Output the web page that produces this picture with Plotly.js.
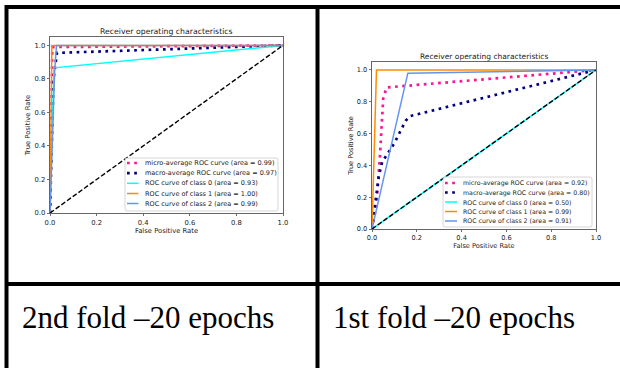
<!DOCTYPE html>
<html><head><meta charset="utf-8">
<script src="https://cdn.plot.ly/plotly-3.0.1.min.js"></script>
<style>html,body{margin:0;padding:0;background:#fff;} #chart{width:620px;height:368px;}</style>
</head><body><div id="chart"></div>
<script>
// ---------- data ----------
const chartTitle = 'Receiver operating characteristics';
const seriesNames = ['micro-average ROC curve', 'macro-average ROC curve', 'ROC curve of class 0', 'ROC curve of class 1', 'ROC curve of class 2'];
const cellLabels = ['2nd fold \u201320 epochs', '1st fold \u201320 epochs'];
const tickValues = [0, 0.2, 0.4, 0.6, 0.8, 1.0];

// 2nd fold (left panel)
const fold2Areas = [0.99, 0.97, 0.93, 1.00, 0.99];
const fold2MicroFpr = [0, 0.007, 0.01, 1];
const fold2MicroTpr = [0, 0.9, 0.99, 1];
const fold2MacroFpr = [0, 0.005, 0.015, 0.03, 1];
const fold2MacroTpr = [0, 0.3, 0.8, 0.955, 1];
const fold2C0Fpr = [0, 0.017, 1];
const fold2C0Tpr = [0, 0.866, 1];
const fold2C1Fpr = [0, 0.008, 1];
const fold2C1Tpr = [0, 1, 1];
const fold2C2Fpr = [0, 0.02, 0.028, 1];
const fold2C2Tpr = [0, 0.85, 1, 1];

// 1st fold (right panel)
const fold1Areas = [0.92, 0.80, 0.50, 0.99, 0.91];
const fold1MicroFpr = [0, 0.02, 0.035, 0.05, 0.065, 1];
const fold1MicroTpr = [0, 0.15, 0.45, 0.82, 0.89, 1];
const fold1MacroFpr = [0, 0.007, 0.015, 0.022, 0.03, 0.045, 0.074, 0.1, 0.125, 0.15, 0.17, 1];
const fold1MacroTpr = [0, 0.08, 0.19, 0.27, 0.33, 0.42, 0.48, 0.54, 0.61, 0.68, 0.71, 1];
const fold1C0Fpr = [0, 1];
const fold1C0Tpr = [0, 1];
const fold1C1Fpr = [0, 0.02, 1];
const fold1C1Tpr = [0, 1, 1];
const fold1C2Fpr = [0, 0.16, 1];
const fold1C2Tpr = [0, 0.98, 1];

const chanceFpr = [0, 1];
const chanceTpr = [0, 1];

// ---------- styles ----------
const W = 620, H = 368;
const px = x => x / W;
const py = y => 1 - y / H;
const colors = ['deeppink', 'navy', 'aqua', 'darkorange', 'cornflowerblue'];
const dotDash = '2.7px,4.5px';
const dashes = [dotDash, dotDash, 'solid', 'solid', 'solid'];
const widths = [2.7, 2.7, 1.5, 1.5, 1.5];
const mplFont = 'DejaVu Sans, Verdana, sans-serif';

function panelTraces(xa, ya, fprs, tprs) {
  const tr = fprs.map((f, i) => ({
    type: 'scatter', mode: 'lines', x: f, y: tprs[i], xaxis: xa, yaxis: ya,
    line: {color: colors[i], width: widths[i], dash: dashes[i]},
    hoverinfo: 'skip', showlegend: false
  }));
  tr.push({type: 'scatter', mode: 'lines', x: chanceFpr, y: chanceTpr, xaxis: xa, yaxis: ya,
    line: {color: 'black', width: 1.4, dash: '4.8px,2.2px'}, hoverinfo: 'skip', showlegend: false});
  return tr;
}

const traces = [
  ...panelTraces('x', 'y',
    [fold2MicroFpr, fold2MacroFpr, fold2C0Fpr, fold2C1Fpr, fold2C2Fpr],
    [fold2MicroTpr, fold2MacroTpr, fold2C0Tpr, fold2C1Tpr, fold2C2Tpr]),
  ...panelTraces('x2', 'y2',
    [fold1MicroFpr, fold1MacroFpr, fold1C0Fpr, fold1C1Fpr, fold1C2Fpr],
    [fold1MicroTpr, fold1MacroTpr, fold1C0Tpr, fold1C1Tpr, fold1C2Tpr])
];

function xAxis(domain, anchor, fs, standoff) {
  return {domain, anchor, range: [0, 1], tickvals: tickValues, tickformat: '.1f',
    ticks: 'outside', ticklen: 2.5, tickwidth: 0.7, tickcolor: '#333',
    showline: true, mirror: true, linecolor: '#555', linewidth: 0.9,
    showgrid: false, zeroline: false, fixedrange: true,
    tickfont: {family: mplFont, size: fs, color: '#222'},
    title: {text: 'False Positive Rate', font: {family: mplFont, size: fs, color: '#222'}, standoff}};
}
function yAxis(domain, anchor, fs, standoff) {
  return {domain, anchor, range: [0, 1.05], tickvals: tickValues, tickformat: '.1f',
    ticks: 'outside', ticklen: 2.5, tickwidth: 0.7, tickcolor: '#333',
    showline: true, mirror: true, linecolor: '#555', linewidth: 0.9,
    showgrid: false, zeroline: false, fixedrange: true,
    tickfont: {family: mplFont, size: fs, color: '#222'},
    title: {text: 'True Positive Rate', font: {family: mplFont, size: fs, color: '#222'}, standoff}};
}

const shapes = [];
const annotations = [];

// table borders
const bw = 4;
shapes.push({type: 'line', xref: 'paper', yref: 'paper', x0: px(5), x1: px(620), y0: py(7), y1: py(7), line: {color: 'black', width: bw}});
shapes.push({type: 'line', xref: 'paper', yref: 'paper', x0: px(6.5), x1: px(6.5), y0: py(5), y1: py(368), line: {color: 'black', width: bw}});
shapes.push({type: 'line', xref: 'paper', yref: 'paper', x0: px(317.5), x1: px(317.5), y0: py(5), y1: py(368), line: {color: 'black', width: bw}});
shapes.push({type: 'line', xref: 'paper', yref: 'paper', x0: px(5), x1: px(620), y0: py(284), y1: py(284), line: {color: 'black', width: bw}});

// cell captions
annotations.push({xref: 'paper', yref: 'paper', x: px(20), y: py(317), xanchor: 'left', yanchor: 'middle', showarrow: false,
  text: cellLabels[0], font: {family: 'Liberation Serif, Times New Roman, serif', size: 31, color: 'black'}});
annotations.push({xref: 'paper', yref: 'paper', x: px(331), y: py(317), xanchor: 'left', yanchor: 'middle', showarrow: false,
  text: cellLabels[1], font: {family: 'Liberation Serif, Times New Roman, serif', size: 31, color: 'black'}});

// panel titles
annotations.push({xref: 'paper', yref: 'paper', x: px(166.5), y: py(32), xanchor: 'center', yanchor: 'middle', showarrow: false,
  text: chartTitle, font: {family: mplFont, size: 7.75, color: '#222'}});
annotations.push({xref: 'paper', yref: 'paper', x: px(484), y: py(57), xanchor: 'center', yanchor: 'middle', showarrow: false,
  text: chartTitle, font: {family: mplFont, size: 7.5, color: '#222'}});

// custom legends (matplotlib-style)
function roundRect(x0, y0, x1, y1, r) {
  const X0 = px(x0), X1 = px(x1), Y0 = py(y0), Y1 = py(y1);
  const rx = r / W, ry = r / H;
  return `M${X0 + rx},${Y0} L${X1 - rx},${Y0} Q${X1},${Y0} ${X1},${Y0 - ry} L${X1},${Y1 + ry} Q${X1},${Y1} ${X1 - rx},${Y1} L${X0 + rx},${Y1} Q${X0},${Y1} ${X0},${Y1 + ry} L${X0},${Y0 - ry} Q${X0},${Y0} ${X0 + rx},${Y0} Z`;
}
function addLegend(areas, box, lx0, lx1, tx, rows, fs) {
  shapes.push({type: 'path', xref: 'paper', yref: 'paper', path: roundRect(box[0], box[1], box[2], box[3], 2),
    fillcolor: 'rgba(255,255,255,0.85)', line: {color: '#cccccc', width: 0.8}});
  seriesNames.forEach((n, i) => {
    shapes.push({type: 'line', xref: 'paper', yref: 'paper', x0: px(lx0), x1: px(lx1), y0: py(rows[i]), y1: py(rows[i]),
      line: {color: colors[i], width: widths[i], dash: dashes[i]}});
    annotations.push({xref: 'paper', yref: 'paper', x: px(tx), y: py(rows[i]), xanchor: 'left', yanchor: 'middle', showarrow: false,
      text: `${n} (area = ${areas[i].toFixed(2)})`, font: {family: mplFont, size: fs, color: '#222'}});
  });
}
addLegend(fold2Areas, [125, 158, 278, 211], 127, 138.5, 143, [163, 173.2, 183.3, 193.5, 203.5], 6.5);
addLegend(fold1Areas, [443, 177, 592, 227], 445, 457, 461, [183, 192.5, 202, 211.5, 221], 6.25);

const layout = {
  width: W, height: H, margin: {l: 0, r: 0, t: 0, b: 0},
  paper_bgcolor: 'white', plot_bgcolor: 'white', showlegend: false,
  xaxis: xAxis([px(50), px(283)], 'y', 6.8, 2),
  yaxis: yAxis([py(213), py(37)], 'x', 6.8, 2),
  xaxis2: xAxis([px(372), px(596)], 'y2', 6.6, 2),
  yaxis2: yAxis([py(229), py(62)], 'x2', 6.6, 2),
  shapes, annotations
};

Plotly.newPlot('chart', traces, layout, {staticPlot: true, displayModeBar: false});
</script></body></html>
